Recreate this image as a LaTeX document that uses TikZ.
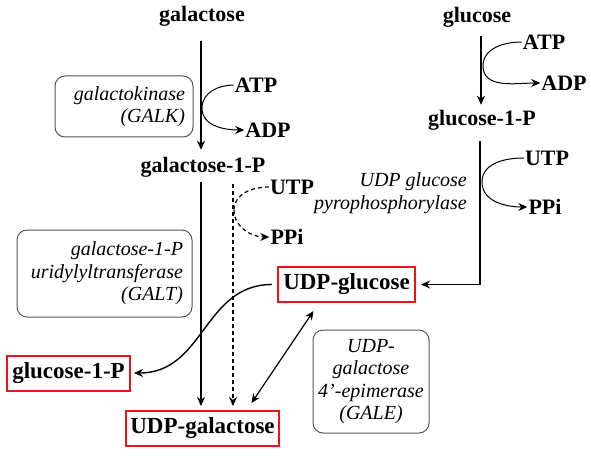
\documentclass[tikz,border=0pt]{standalone}
\usepackage{fontspec}
\setmainfont{Liberation Serif}
\usepackage{tikz}
\usetikzlibrary{arrows.meta,calc}
\definecolor{PWRed} {HTML}{E8141B}
\definecolor{PWGray}{HTML}{555555}

\tikzset{
  met/.style={font=\fontsize{22}{25}\selectfont\bfseries, inner sep=1pt},
  hit/.style={font=\fontsize{23}{26}\selectfont\bfseries, draw=PWRed, line width=2pt,
              inner xsep=4pt, minimum height=35pt},
  enz/.style={draw=PWGray, line width=1pt, rounded corners=10pt,
              font=\fontsize{20}{22.5}\selectfont\itshape},
  arr/.style={line width=1.4pt, -{Stealth[length=9pt,width=8pt]}},
  dbl/.style={line width=1.2pt, {Stealth[length=9pt,width=8pt]}-{Stealth[length=9pt,width=8pt]}},
  dsh/.style={dash pattern=on 4pt off 3pt}
}

\begin{document}
\begin{tikzpicture}[x=1pt,y=-1pt]
    \useasboundingbox (0,0) rectangle (591,457);

    % Metabolites
    \node[met] (gal)    at (202,16)  {galactose};
    \node[met] (gal1p)  at (203,167) {galactose-1-P};
    \node[met] (glc)    at (477,17)  {glucose};
    \node[met] (glc1p)  at (482,120) {glucose-1-P};
    \node[met] (atpA)   at (256,85)  {ATP};
    \node[met] (adpA)   at (268,130) {ADP};
    \node[met] (atpB)   at (544,42)  {ATP};
    \node[met] (adpB)   at (564,83)  {ADP};
    \node[met] (utpA)   at (292,187) {UTP};
    \node[met] (ppiA)   at (287,237) {PPi};
    \node[met] (utpB)   at (547,158) {UTP};
    \node[met] (ppiB)   at (545,207) {PPi};

    % Highlighted metabolites
    \node[hit,minimum width=137pt] (udpglc) at (346.5,284.5) {UDP-glucose};
    \node[hit,minimum width=123pt] (glc1pL) at (68.5,373)   {glucose-1-P};
    \node[hit,minimum width=153pt] (udpgal) at (202.5,428.5) {UDP-galactose};

    % Enzymes
    \node[enz,minimum width=138pt,minimum height=61pt,text width=122pt,align=right]
        (galk) at (124,106.5) {galactokinase\\(GALK)};
    \node[enz,minimum width=175pt,minimum height=87pt,text width=157pt,align=right]
        (galt) at (104.5,273.5) {galactose-1-P\\uridylyltransferase\\(GALT)};
    \node[enz,minimum width=116pt,minimum height=103pt,text width=106pt,align=center]
        (gale) at (371,381.5) {UDP-\\galactose\\4'-epimerase\\(GALE)};
    \node[font=\fontsize{20}{22.5}\selectfont\itshape,align=right,inner sep=0pt,anchor=east]
        (ugp) at (467,193) {UDP glucose\\pyrophosphorylase};

    % Galactose branch
    \coordinate (kA) at (202,108);
    \coordinate (kB) at (234,210);
    \draw[arr,shorten <=14pt,shorten >=6pt] (gal.south -| 201,0) -- (gal1p.north -| 201,0);
    \draw[line width=1pt] (atpA.west) to[out=180,in=90] (kA);
    \draw[arr,line width=1pt] (kA) to[out=-90,in=180] (adpA.west);
    \draw[arr,shorten <=4pt,shorten >=4pt] (gal1p.south -| 201,0) -- (udpgal.north -| 201,0);
    \draw[arr,dsh,shorten <=6pt,shorten >=4pt] (gal1p.south -| 233,0) -- (udpgal.north -| 233,0);
    \draw[dsh,line width=1.2pt] (utpA.west) to[out=180,in=90] (kB);
    \draw[arr,dsh,line width=1.2pt] (kB) to[out=-90,in=180] (ppiA.west);

    % Glucose branch
    \coordinate (kC) at (483,66);
    \coordinate (kD) at (482,182);
    \draw[arr,shorten <=8pt,shorten >=4pt] (glc.south -| 481,0) -- (glc1p.north -| 481,0);
    \draw[line width=1pt] (atpB.west) to[out=180,in=90] (kC);
    \draw[arr,line width=1pt] (kC) to[out=-90,in=180] (adpB.west);
    \draw[arr,shorten <=10pt,shorten >=5pt] (glc1p.south -| 480,0) |- (udpglc.east);
    \draw[line width=1pt] (utpB.west) to[out=180,in=90] (kD);
    \draw[arr,line width=1pt] (kD) to[out=-90,in=180] (ppiB.west);

    % GALT and GALE
    \draw[arr,shorten <=5pt,shorten >=3pt] (udpglc.west) to[out=180,in=0,looseness=1.1] (glc1pL.east);
    \draw[dbl] ($(udpgal.north)+(49,-7)$) -- ($(udpglc.south)+(-33,8)$);
  \end{tikzpicture}
\end{document}
